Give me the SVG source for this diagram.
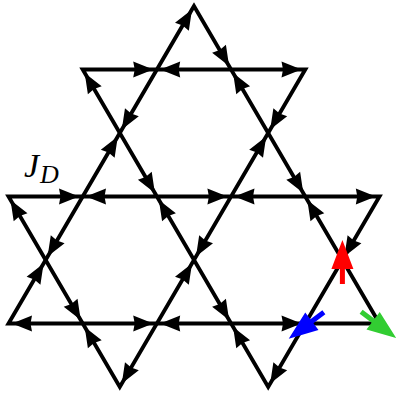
<svg xmlns="http://www.w3.org/2000/svg" xmlns:xlink="http://www.w3.org/1999/xlink" width="396" height="394" viewBox="0 0 396 394">
<style>
.bond{fill:none;stroke:#000;stroke-width:3.9;stroke-linejoin:miter;stroke-miterlimit:4}
.ah{fill:#000;stroke:none}
.lbl{font-family:"Liberation Serif","DejaVu Serif",serif;font-style:italic;fill:#000}
</style>
<defs>
<path id="h" class="ah" d="M0,0 L-20,-8 L-18.5,0 L-20,8 Z"/>
<path id="spin" d="M-23,-2.5 L-8,-2.5 L-8,-11 L21,0 L-8,11 L-8,2.5 L-23,2.5 Z"/>
</defs>
<rect width="396" height="394" fill="#fff"/>
<g id="connectors">
<path class="bond" d="M194,6 L8.5,323.5 L379.5,323.5 Z"/>
<path class="bond" d="M8.5,196.5 L379.5,196.5 L268.2,387 L82.7,69.5 L305.3,69.5 L119.8,387 Z"/>
<g id="arrowheads">
<use href="#h" transform="translate(153.2,69.5) rotate(0)"/>
<use href="#h" transform="translate(160.2,69.5) rotate(180)"/>
<use href="#h" transform="translate(301.5,69.5) rotate(0)"/>
<use href="#h" transform="translate(79,196.5) rotate(0)"/>
<use href="#h" transform="translate(86,196.5) rotate(180)"/>
<use href="#h" transform="translate(227.4,196.5) rotate(0)"/>
<use href="#h" transform="translate(234.5,196.5) rotate(180)"/>
<use href="#h" transform="translate(375.8,196.5) rotate(0)"/>
<use href="#h" transform="translate(12,323.5) rotate(180)"/>
<use href="#h" transform="translate(153.2,323.5) rotate(0)"/>
<use href="#h" transform="translate(160.2,323.5) rotate(180)"/>
<use href="#h" transform="translate(301.5,323.5) rotate(0)"/>
<use href="#h" transform="translate(192,9.45) rotate(-59.7)"/>
<use href="#h" transform="translate(121.8,129.55) rotate(120.3)"/>
<use href="#h" transform="translate(117.8,136.45) rotate(-59.7)"/>
<use href="#h" transform="translate(47.6,256.55) rotate(120.3)"/>
<use href="#h" transform="translate(43.6,263.45) rotate(-59.7)"/>
<use href="#h" transform="translate(84.7,72.95) rotate(-120.3)"/>
<use href="#h" transform="translate(154.9,193.05) rotate(59.7)"/>
<use href="#h" transform="translate(158.9,199.95) rotate(-120.3)"/>
<use href="#h" transform="translate(229.1,320.05) rotate(59.7)"/>
<use href="#h" transform="translate(233.1,326.95) rotate(-120.3)"/>
<use href="#h" transform="translate(270.2,129.55) rotate(120.3)"/>
<use href="#h" transform="translate(266.2,136.45) rotate(-59.7)"/>
<use href="#h" transform="translate(196,256.55) rotate(120.3)"/>
<use href="#h" transform="translate(192,263.45) rotate(-59.7)"/>
<use href="#h" transform="translate(121.8,383.55) rotate(120.3)"/>
<use href="#h" transform="translate(229.1,66.05) rotate(59.7)"/>
<use href="#h" transform="translate(233.1,72.95) rotate(-120.3)"/>
<use href="#h" transform="translate(303.3,193.05) rotate(59.7)"/>
<use href="#h" transform="translate(307.3,199.95) rotate(-120.3)"/>
<use href="#h" transform="translate(10.5,199.95) rotate(-120.3)"/>
<use href="#h" transform="translate(80.7,320.05) rotate(59.7)"/>
<use href="#h" transform="translate(84.7,326.95) rotate(-120.3)"/>
<use href="#h" transform="translate(344.4,256.55) rotate(120.3)"/>
<use href="#h" transform="translate(270.2,383.55) rotate(120.3)"/>
</g>
</g>
<g id="spin-red"><use href="#spin" fill="#ff0000" transform="translate(342.4,261) rotate(-90)"/></g>
<g id="spin-blue"><use href="#spin" fill="#0000ff" transform="translate(305.5,326) rotate(143)"/></g>
<g id="spin-green"><use href="#spin" fill="#32cd32" transform="translate(379.5,325.5) rotate(37)"/></g>
<g id="label-JD"><text class="lbl" x="24" y="177" font-size="34">J<tspan font-size="26" dx="1" dy="6">D</tspan></text></g>
</svg>
